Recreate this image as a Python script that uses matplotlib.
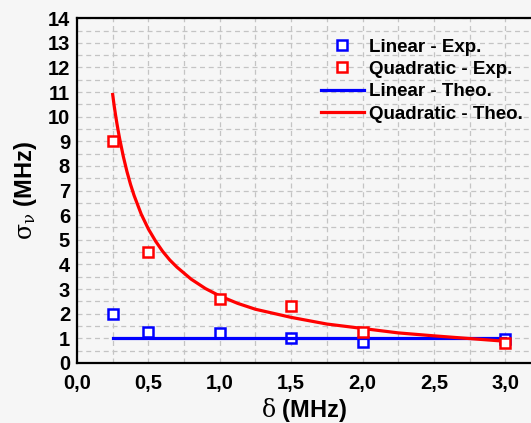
import matplotlib
matplotlib.use("Agg")
import matplotlib.pyplot as plt
from matplotlib.ticker import MultipleLocator, FuncFormatter
from matplotlib.lines import Line2D

# Measured dispersion for the two detuning schemes
delta_exp = [0.25, 0.5, 1.0, 1.5, 2.0, 3.0]
linear_exp = [2.0, 1.27, 1.23, 1.0, 0.87, 0.98]
quadratic_exp = [9.0, 4.5, 2.6, 2.33, 1.26, 0.8]

# Theoretical curves
delta_theo = [0.25, 0.26, 0.27, 0.28, 0.29, 0.3, 0.325, 0.35, 0.375, 0.4, 0.45,
              0.5, 0.55, 0.6, 0.65, 0.7, 0.8, 0.9, 1.0, 1.125, 1.25, 1.5, 1.75,
              2.0, 2.25, 2.5, 2.75, 3.0]
linear_theo = [1.0] * len(delta_theo)
quadratic_theo = [10.9, 10.46, 10.07, 9.71, 9.38, 9.07, 8.37, 7.77, 7.25, 6.8, 6.04,
                  5.44, 4.95, 4.53, 4.18, 3.89, 3.4, 3.02, 2.72, 2.42, 2.18, 1.85, 1.58,
                  1.4, 1.22, 1.1, 0.99, 0.88]

bg = "#f6f6f6"
plt.rcParams["mathtext.fontset"] = "dejavuserif"

fig = plt.figure(figsize=(5.31, 4.23), dpi=100, facecolor=bg)
ax = fig.add_axes([0.145, 0.142, 0.855, 0.815], facecolor=bg)

ax.plot(delta_exp, linear_exp, ls="none", marker="s", ms=7.5, mfc="white",
        mec="#0000ff", mew=1.8, zorder=3)
ax.plot(delta_theo, linear_theo, color="#0000ff", lw=2.3, zorder=4)
ax.plot(delta_theo, quadratic_theo, color="#ff0000", lw=2.3, zorder=5)
ax.plot(delta_exp, quadratic_exp, ls="none", marker="s", ms=7.5, mfc="white",
        mec="#ff0000", mew=1.8, zorder=6)

ax.set_xlim(0, 3.18)
ax.set_ylim(0, 14)
ax.xaxis.set_major_locator(MultipleLocator(0.5))
ax.xaxis.set_minor_locator(MultipleLocator(0.25))
ax.yaxis.set_major_locator(MultipleLocator(1))
ax.yaxis.set_minor_locator(MultipleLocator(0.5))
ax.xaxis.set_major_formatter(FuncFormatter(lambda v, p: f"{v:.1f}".replace(".", ",")))

ax.grid(which="both", color="#c4c4c4", ls=(0, (4, 3)), lw=0.9)
ax.set_axisbelow(True)
ax.tick_params(which="both", length=0)
ax.tick_params(axis="x", pad=8)
ax.tick_params(axis="y", pad=5)

for lbl in ax.get_xticklabels() + ax.get_yticklabels():
    lbl.set_fontfamily("Liberation Sans")
    lbl.set_fontweight("bold")
    lbl.set_fontsize(14.5)

for side in ("left", "top", "bottom"):
    ax.spines[side].set_linewidth(1.6)
    ax.spines[side].set_color("black")
ax.spines["right"].set_visible(False)

ax.set_xlabel(r"$\mathrm{\delta}$ (MHz)", fontsize=17, fontweight="bold",
              family="Liberation Sans", labelpad=2)
ax.set_ylabel(r"$\mathrm{\sigma_\nu}$ (MHz)", fontsize=17, fontweight="bold",
              family="Liberation Sans", labelpad=6)

handles = [
    Line2D([], [], ls="none", marker="s", ms=7, mfc="white", mec="#0000ff", mew=1.8),
    Line2D([], [], ls="none", marker="s", ms=7, mfc="white", mec="#ff0000", mew=1.8),
    Line2D([], [], color="#0000ff", lw=2.3),
    Line2D([], [], color="#ff0000", lw=2.3),
]
labels = ["Linear - Exp.", "Quadratic - Exp.", "Linear - Theo.", "Quadratic - Theo."]
ax.legend(handles, labels, loc="upper right", bbox_to_anchor=(1.02, 0.99),
          frameon=False, handlelength=2.3, handletextpad=0.3, labelspacing=0.28,
          prop=dict(family="Liberation Sans", weight="bold", size=13.5))

fig.savefig("out.png", dpi=100, facecolor=bg)
